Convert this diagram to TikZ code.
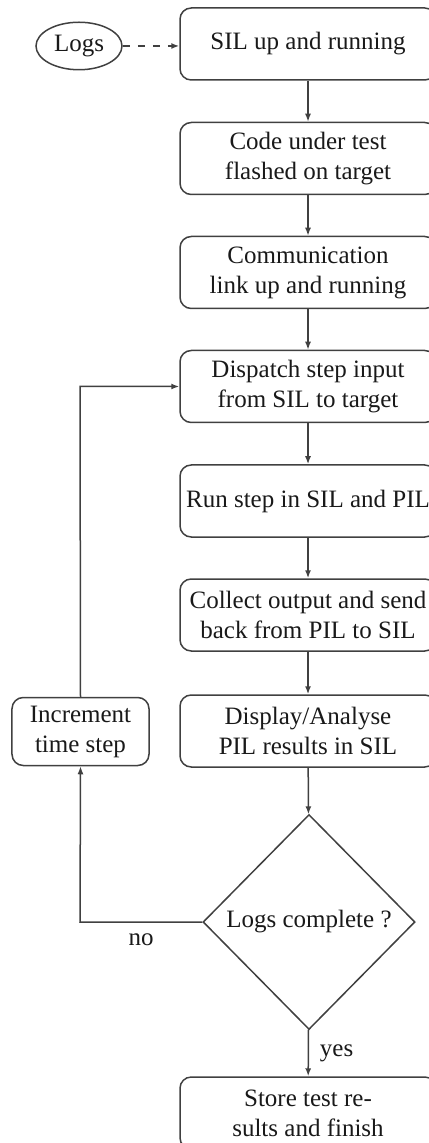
\documentclass[tikz,border=0pt]{standalone}
\usepackage{fontspec}
\setmainfont{Liberation Serif}
\usetikzlibrary{shapes.geometric,arrows.meta}
\begin{document}
\begin{tikzpicture}[x=0.4pt,y=-0.4pt,
  line width=0.6pt,
  every node/.style={font=\fontsize{10}{12}\selectfont, text=black!90},
  stepbox/.style={draw=black!75, rounded corners=4.5pt, align=center,
    minimum width=102.4pt, minimum height=28.8pt, inner sep=2pt},
  incbox/.style={draw=black!75, rounded corners=4.5pt, align=center,
    minimum width=54.8pt, minimum height=27.2pt, inner sep=2pt},
  logsell/.style={draw=black!75, ellipse, minimum width=34.4pt, minimum height=19pt, inner sep=1pt},
  decision/.style={draw=black!75, diamond, minimum width=84.8pt, minimum height=86pt, inner sep=0pt},
  flow/.style={draw=black!75, -{Latex[length=3.2pt,width=2.4pt]}},
  dflow/.style={flow, dashed}]
\useasboundingbox (0,0) rectangle (428,1143);
\node[logsell] (logs) at (79,46) {Logs};
\node[stepbox] (b1) at (308,44) {SIL up and running};
\node[stepbox] (b2) at (308,158.5) {Code under test\\flashed on target};
\node[stepbox] (b3) at (308,272.5) {Communication\\link up and running};
\node[stepbox] (b4) at (308,386.5) {Dispatch step input\\from SIL to target};
\node[stepbox] (b5) at (308,501) {Run step in SIL and PIL};
\node[stepbox] (b6) at (308,615) {Collect output and send\\back from PIL to SIL};
\node[stepbox] (b7) at (308,731) {Display/Analyse\\PIL results in SIL};
\node[decision] (dec) at (309,922) {Logs complete ?};
\node[stepbox] (b8) at (308,1113) {Store test re-\\sults and finish};
\node[incbox] (inc) at (80.5,731.5) {Increment\\time step};
\coordinate (c1) at (80,922);
\coordinate (c2) at (80,386.5);
\draw[dflow] (logs.east) -- (logs.east -| b1.west);
\draw[flow] (b1) -- (b2);
\draw[flow] (b2) -- (b3);
\draw[flow] (b3) -- (b4);
\draw[flow] (b4) -- (b5);
\draw[flow] (b5) -- (b6);
\draw[flow] (b6) -- (b7);
\draw[flow] (b7) -- (dec);
\draw[flow] (dec) -- node[right, xshift=1pt] {yes} (b8);
\draw[flow] (dec.west) -- node[below, yshift=-1pt] {no} (c1) -- (inc.south);
\draw[flow] (inc.north) -- (c2) -- (b4.west);
\end{tikzpicture}
\end{document}
